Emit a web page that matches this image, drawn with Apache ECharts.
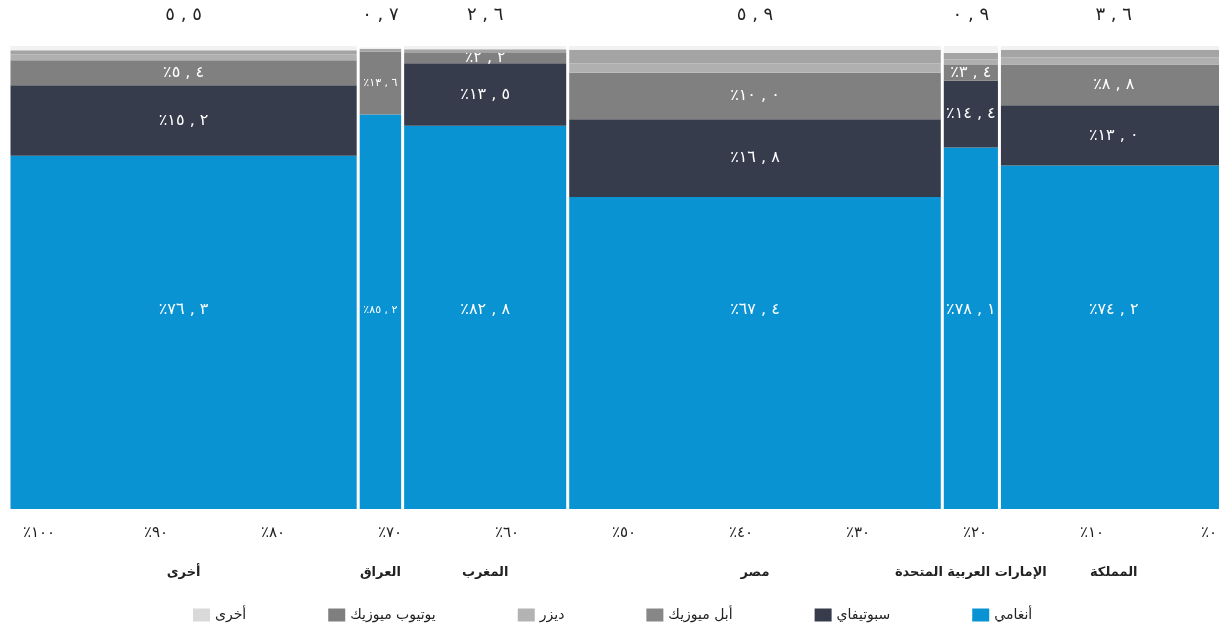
<!DOCTYPE html>
<html>
<head>
<meta charset="utf-8">
<script src="https://cdn.jsdelivr.net/npm/echarts@6/dist/echarts.min.js"></script>
<style>
  html, body { margin: 0; padding: 0; background: #fff; }
  #chart { width: 1219px; height: 629px; }
</style>
</head>
<body>
<div id="chart"></div>
<script>
// الأسواق من اليمين إلى اليسار
var markets = ['المملكة', 'الإمارات العربية المتحدة', 'مصر', 'المغرب', 'العراق', 'أخرى'];
var marketSize = [3.6, 0.9, 5.9, 2.6, 0.7, 5.5];

var services = ['أنغامي', 'سبوتيفاي', 'أبل ميوزيك', 'ديزر', 'يوتيوب ميوزيك', 'أخرى'];
var anghami = [74.2, 78.1, 67.4, 82.8, 85.2, 76.3];
var spotify = [13.0, 14.4, 16.8, 13.5, 0, 15.2];
var appleMusic = [8.8, 3.4, 10.0, 2.2, 13.6, 5.4];
var deezer = [1.5, 1.2, 2.0, 0, 0, 1.3];
var youtubeMusic = [1.7, 1.4, 3.0, 0.8, 0.6, 0.9];
var otherServices = [0.8, 1.5, 0.8, 0.7, 0.3, 0.9];

var shares = [anghami, spotify, appleMusic, deezer, youtubeMusic, otherServices];
var barColors = ['#0a93d3', '#363c4c', '#808080', '#b0b0b0', '#a4a4a4', '#f2f2f2'];
var legendColors = ['#0a93d3', '#363c4c', '#878787', '#b3b3b3', '#7f7f7f', '#d9d9d9'];
var labelled = [true, true, true, false, false, false];

var FONT = 'DejaVu Sans';
var LRM = '\u200E';

function toArabic(s) {
  return String(s).replace(/[0-9]/g, function (d) { return '٠١٢٣٤٥٦٧٨٩'[+d]; });
}
// رقم عشري بفاصلة
function fmt(v) {
  var p = v.toFixed(1).split('.');
  return toArabic(p[0]) + LRM + ' , ' + LRM + toArabic(p[1]);
}

var total = marketSize.reduce(function (a, b) { return a + b; }, 0);

// حدود الأعمدة على المحور الأفقي
var xStart = [], acc = 0;
marketSize.forEach(function (m) { xStart.push(acc); acc += m; });

var series = services.map(function (name, s) {
  var data = markets.map(function (mk, i) {
    var below = 0;
    for (var k = 0; k < s; k++) below += shares[k][i];
    return [xStart[i], xStart[i] + marketSize[i], below, below + shares[s][i], shares[s][i], i];
  });
  return {
    name: name,
    type: 'custom',
    xAxisIndex: 0,
    yAxisIndex: 0,
    clip: false,
    itemStyle: { color: barColors[s] },
    encode: { x: [0, 1], y: [2, 3] },
    data: data,
    renderItem: function (params, api) {
      var v = api.value(4);
      var i = api.value(5);
      var a = api.coord([api.value(0), api.value(2)]);
      var b = api.coord([api.value(1), api.value(3)]);
      var left = Math.min(a[0], b[0]) + 1.5;
      var right = Math.max(a[0], b[0]) - 1.5;
      var cx = (left + right) / 2;
      var children = [];
      if (v > 0) {
        children.push({
          type: 'rect',
          shape: { x: left, y: b[1], width: right - left, height: a[1] - b[1] },
          style: { fill: barColors[s] }
        });
      }
      if (labelled[s] && v > 0) {
        var ly = s === 0 ? api.coord([0, 43]) [1] : (a[1] + b[1]) / 2;
        children.push({
          type: 'text',
          style: {
            x: cx, y: ly, text: '٪' + fmt(v),
            fill: '#fff', font: (right - left < 50 ? 11 : 16) + 'px "' + FONT + '"',
            align: 'center', verticalAlign: 'middle'
          }
        });
      }
      if (s === 0) {
        var top = api.coord([0, 100])[1];
        children.push({
          type: 'text',
          style: {
            x: cx, y: top - 31, text: fmt(marketSize[i]),
            fill: '#222', font: '18px "' + FONT + '"',
            align: 'center', verticalAlign: 'middle'
          }
        });
        children.push({
          type: 'text',
          style: {
            x: cx, y: a[1] + 64, text: markets[i],
            fill: '#222', font: 'bold 13px "' + FONT + '"',
            align: 'center', verticalAlign: 'middle'
          }
        });
      }
      return { type: 'group', children: children };
    }
  };
});

var chart = echarts.init(document.getElementById('chart'));
chart.setOption({
  animation: false,
  textStyle: { fontFamily: FONT },
  grid: [
    { left: 9, width: 1219, top: 46, bottom: 120, outerBoundsMode: 'none' },
    { left: 39, right: 10, top: 46, bottom: 120, outerBoundsMode: 'none' }
  ],
  xAxis: [
    { type: 'value', gridIndex: 0, min: 0, max: total, inverse: true, show: false },
    {
      type: 'value', gridIndex: 1, min: 0, max: 100, interval: 10, inverse: true,
      axisLine: { show: false }, axisTick: { show: false }, splitLine: { show: false },
      axisLabel: {
        margin: 17, fontSize: 15, color: '#222', fontFamily: FONT,
        formatter: function (v) { return '٪' + toArabic(v); }
      }
    }
  ],
  yAxis: [
    { type: 'value', gridIndex: 0, min: 0, max: 100, show: false },
    { type: 'value', gridIndex: 1, min: 0, max: 100, show: false }
  ],
  legend: {
    left: 193,
    top: 608,
    padding: 0,
    itemWidth: 17,
    itemHeight: 13,
    itemGap: 82,
    icon: 'rect',
    textStyle: { fontSize: 14, color: '#222', fontFamily: FONT },
    data: services.map(function (n, s) {
      return { name: n, itemStyle: { color: legendColors[s] } };
    }).reverse()
  },
  series: series
});
</script>
</body>
</html>
